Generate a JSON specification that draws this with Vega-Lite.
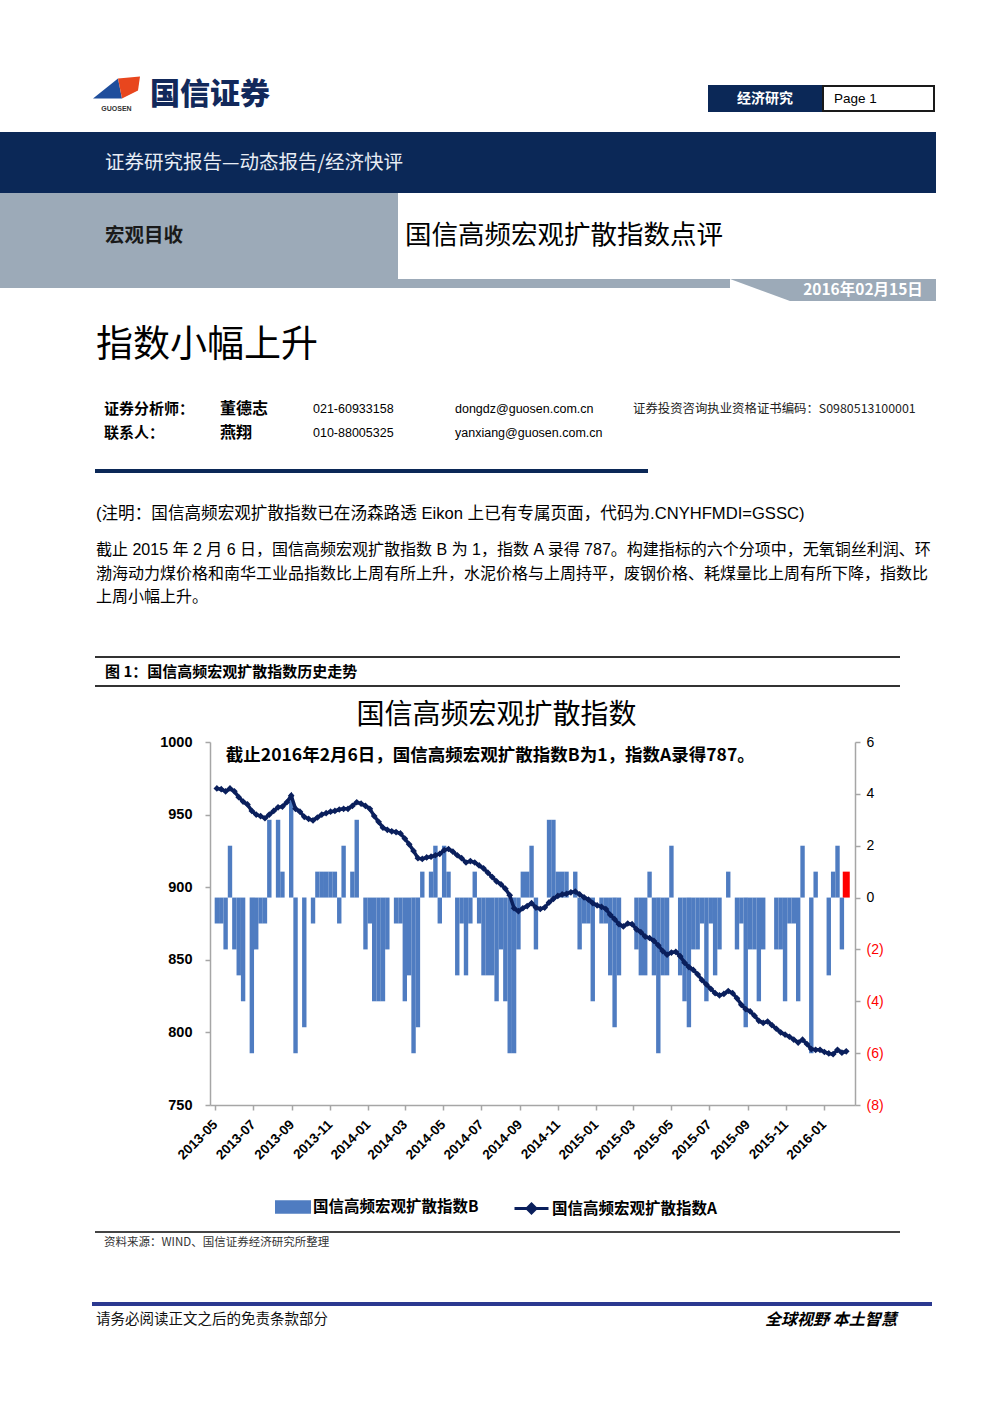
{
  "$schema": "https://vega.github.io/schema/vega-lite/v6.json",
  "background": "white",
  "padding": 0,
  "spacing": 0,
  "config": {
    "view": {"stroke": null},
    "concat": {"spacing": 0},
    "font": "Noto Sans CJK SC",
    "text": {"font": "Noto Sans CJK SC", "color": "#000000"},
    "axis": {"grid": false, "domainColor": "#a6a6a6", "tickColor": "#a6a6a6", "domainWidth": 1.5, "tickWidth": 1.5}
  },
  "vconcat": [
    {
      "spacing": 0,
      "hconcat": [
        {"width": 93, "height": 131, "data": {"values": []}, "mark": "text"},
        {
          "spacing": 0,
          "vconcat": [
            {"width": 47, "height": 65.5, "data": {"values": []}, "mark": "text"},
            {"width": 47, "height": 47, "data": {"values": [{"t": "GUOSEN"}]}, "layer": [
              {"mark": {"type": "point", "shape": "M-1,0.383L0.064,-0.468L0.234,0.383Z", "size": 2209, "filled": true, "color": "#1f4e9c", "opacity": 1, "clip": true}, "encoding": {}},
              {"mark": {"type": "point", "shape": "M0.064,-0.468L1,-0.553L0.915,0.043L0.234,0.383Z", "size": 2209, "filled": true, "color": "#e8461e", "opacity": 1, "clip": true}, "encoding": {}},
              {"mark": {"type": "text", "font": "Liberation Sans", "fontSize": 7, "fontWeight": "bold", "color": "#333333", "dy": 19}, "encoding": {"text": {"field": "t"}}}
            ]},
            {"width": 47, "height": 18.5, "data": {"values": []}, "mark": "text"}
          ]
        },
        {"width": 10, "height": 131, "data": {"values": []}, "mark": "text"},
        {
          "spacing": 0,
          "vconcat": [
            {"width": 558, "height": 78, "data": {"values": []}, "mark": "text"},
            {"width": 558, "height": 34, "data": {"values": [{"t": "国信证券"}]}, "mark": {"type": "text", "align": "left", "baseline": "middle", "fontSize": 30, "fontWeight": 900, "color": "#12295b"}, "encoding": {"text": {"field": "t"}, "x": {"datum": "a", "type": "nominal", "axis": null, "scale": {"type": "point", "align": 0}}}},
            {"width": 558, "height": 19, "data": {"values": []}, "mark": "text"}
          ]
        },
        {
          "spacing": 0,
          "vconcat": [
            {"width": 225, "height": 85, "data": {"values": []}, "mark": "text"},
            {
              "spacing": 0,
              "hconcat": [
                {"width": 112, "height": 25, "view": {"fill": "#0b2857", "stroke": "#0b2857", "strokeWidth": 2}, "data": {"values": [{"t": "经济研究"}]}, "mark": {"type": "text", "fontSize": 14, "fontWeight": "bold", "color": "#ffffff"}, "encoding": {"text": {"field": "t"}}},
                {"width": 111, "height": 25, "view": {"fill": "#ffffff", "stroke": "#1a1a1a", "strokeWidth": 2}, "data": {"values": [{"t": "Page 1"}]}, "mark": {"type": "text", "align": "left", "baseline": "middle", "dx": 11, "font": "Liberation Sans", "fontSize": 13.5, "color": "#000000"}, "encoding": {"text": {"field": "t"}, "x": {"datum": "a", "type": "nominal", "axis": null, "scale": {"type": "point", "align": 0}}}}
              ]
            },
            {"width": 225, "height": 19, "data": {"values": []}, "mark": "text"}
          ]
        }
      ]
    },
    {
      "spacing": 0,
      "hconcat": [
        {"width": 105, "height": 61, "view": {"fill": "#0b2857"}, "data": {"values": []}, "mark": "text"},
        {"width": 831, "height": 61, "view": {"fill": "#0b2857"}, "data": {"values": [{"t": "证券研究报告—动态报告/经济快评"}]}, "mark": {"type": "text", "align": "left", "baseline": "middle", "fontSize": 19.5, "color": "#e8edf5"}, "encoding": {"text": {"field": "t"}, "x": {"datum": "a", "type": "nominal", "axis": null, "scale": {"type": "point", "align": 0}}}}
      ]
    },
    {
      "spacing": 0,
      "hconcat": [
        {"width": 105, "height": 86, "view": {"fill": "#9caab8"}, "data": {"values": []}, "mark": "text"},
        {"width": 293, "height": 86, "view": {"fill": "#9caab8"}, "data": {"values": [{"t": "宏观目收"}]}, "mark": {"type": "text", "align": "left", "baseline": "middle", "fontSize": 19.5, "fontWeight": "bold", "color": "#1a1a1a"}, "encoding": {"text": {"field": "t"}, "x": {"datum": "a", "type": "nominal", "axis": null, "scale": {"type": "point", "align": 0}}}},
        {"width": 7, "height": 86, "data": {"values": []}, "mark": "text"},
        {"width": 531, "height": 86, "data": {"values": [{"t": "国信高频宏观扩散指数点评"}]}, "mark": {"type": "text", "align": "left", "baseline": "middle", "fontSize": 26.5, "color": "#000000"}, "encoding": {"text": {"field": "t"}, "x": {"datum": "a", "type": "nominal", "axis": null, "scale": {"type": "point", "align": 0}}}}
      ]
    },
    {
      "spacing": 0,
      "hconcat": [
        {
          "spacing": 0,
          "vconcat": [
            {"width": 730, "height": 9, "view": {"fill": "#9caab8"}, "data": {"values": []}, "mark": "text"},
            {"width": 730, "height": 13, "data": {"values": []}, "mark": "text"}
          ]
        },
        {"width": 60, "height": 22, "data": {"values": [{}]}, "mark": {"type": "point", "shape": "M-1,-0.367L1,-0.367L1,0.367Z", "size": 3600, "filled": true, "color": "#9caab8", "opacity": 1, "strokeWidth": 0, "clip": true}, "encoding": {}},
        {"width": 146, "height": 22, "view": {"fill": "#9caab8"}, "data": {"values": [{"t": "2016年02月15日"}]}, "mark": {"type": "text", "fontSize": 15.5, "fontWeight": "bold", "color": "#ffffff"}, "encoding": {"text": {"field": "t"}}}
      ]
    },
    {
      "spacing": 0,
      "vconcat": [
        {
          "spacing": 0,
          "hconcat": [
            {"width": 96, "height": 90, "data": {"values": []}, "mark": "text"},
            {"width": 500, "height": 90, "data": {"values": [{"t": "指数小幅上升"}]}, "mark": {"type": "text", "align": "left", "baseline": "middle", "fontSize": 37, "color": "#000000"}, "encoding": {"text": {"field": "t"}, "x": {"datum": "a", "type": "nominal", "axis": null, "scale": {"type": "point", "align": 0}}}}
          ]
        },
        {"width": 993, "height": 6, "data": {"values": []}, "mark": "text"},
        {
          "spacing": 0,
          "hconcat": [
            {"width": 104, "height": 24, "data": {"values": []}, "mark": "text"},
            {"width": 116, "height": 24, "data": {"values": [{"t": "证券分析师："}]}, "mark": {"type": "text", "align": "left", "baseline": "middle", "fontSize": 15, "fontWeight": "bold"}, "encoding": {"text": {"field": "t"}, "x": {"datum": "a", "type": "nominal", "axis": null, "scale": {"type": "point", "align": 0}}}},
            {"width": 93, "height": 24, "data": {"values": [{"t": "董德志"}]}, "mark": {"type": "text", "align": "left", "baseline": "middle", "fontSize": 16, "fontWeight": "bold"}, "encoding": {"text": {"field": "t"}, "x": {"datum": "a", "type": "nominal", "axis": null, "scale": {"type": "point", "align": 0}}}},
            {"width": 142, "height": 24, "data": {"values": [{"t": "021-60933158"}]}, "mark": {"type": "text", "align": "left", "baseline": "middle", "font": "Liberation Sans", "fontSize": 12.5}, "encoding": {"text": {"field": "t"}, "x": {"datum": "a", "type": "nominal", "axis": null, "scale": {"type": "point", "align": 0}}}},
            {"width": 178, "height": 24, "data": {"values": [{"t": "dongdz@guosen.com.cn"}]}, "mark": {"type": "text", "align": "left", "baseline": "middle", "font": "Liberation Sans", "fontSize": 12.5}, "encoding": {"text": {"field": "t"}, "x": {"datum": "a", "type": "nominal", "axis": null, "scale": {"type": "point", "align": 0}}}},
            {"width": 320, "height": 24, "data": {"values": [{"t": "证券投资咨询执业资格证书编码：S0980513100001"}]}, "mark": {"type": "text", "align": "left", "baseline": "middle", "fontSize": 12.4, "color": "#222222"}, "encoding": {"text": {"field": "t"}, "x": {"datum": "a", "type": "nominal", "axis": null, "scale": {"type": "point", "align": 0}}}}
          ]
        },
        {
          "spacing": 0,
          "hconcat": [
            {"width": 104, "height": 24, "data": {"values": []}, "mark": "text"},
            {"width": 116, "height": 24, "data": {"values": [{"t": "联系人："}]}, "mark": {"type": "text", "align": "left", "baseline": "middle", "fontSize": 15, "fontWeight": "bold"}, "encoding": {"text": {"field": "t"}, "x": {"datum": "a", "type": "nominal", "axis": null, "scale": {"type": "point", "align": 0}}}},
            {"width": 93, "height": 24, "data": {"values": [{"t": "燕翔"}]}, "mark": {"type": "text", "align": "left", "baseline": "middle", "fontSize": 16, "fontWeight": "bold"}, "encoding": {"text": {"field": "t"}, "x": {"datum": "a", "type": "nominal", "axis": null, "scale": {"type": "point", "align": 0}}}},
            {"width": 142, "height": 24, "data": {"values": [{"t": "010-88005325"}]}, "mark": {"type": "text", "align": "left", "baseline": "middle", "font": "Liberation Sans", "fontSize": 12.5}, "encoding": {"text": {"field": "t"}, "x": {"datum": "a", "type": "nominal", "axis": null, "scale": {"type": "point", "align": 0}}}},
            {"width": 178, "height": 24, "data": {"values": [{"t": "yanxiang@guosen.com.cn"}]}, "mark": {"type": "text", "align": "left", "baseline": "middle", "font": "Liberation Sans", "fontSize": 12.5}, "encoding": {"text": {"field": "t"}, "x": {"datum": "a", "type": "nominal", "axis": null, "scale": {"type": "point", "align": 0}}}}
          ]
        },
        {"width": 993, "height": 24, "data": {"values": []}, "mark": "text"},
        {
          "spacing": 0,
          "hconcat": [
            {"width": 95, "height": 4, "data": {"values": []}, "mark": "text"},
            {"width": 553, "height": 4, "view": {"fill": "#0b2857"}, "data": {"values": []}, "mark": "text"}
          ]
        },
        {"width": 993, "height": 29, "data": {"values": []}, "mark": "text"},
        {
          "spacing": 0,
          "hconcat": [
            {"width": 96, "height": 24, "data": {"values": []}, "mark": "text"},
            {"width": 860, "height": 24, "data": {"values": [{"t": "(注明：国信高频宏观扩散指数已在汤森路透 Eikon 上已有专属页面，代码为.CNYHFMDI=GSSC)"}]}, "mark": {"type": "text", "align": "left", "baseline": "middle", "font": "Liberation Sans, Noto Sans CJK SC", "fontSize": 16.6}, "encoding": {"text": {"field": "t"}, "x": {"datum": "a", "type": "nominal", "axis": null, "scale": {"type": "point", "align": 0}}}}
          ]
        },
        {"width": 993, "height": 12, "data": {"values": []}, "mark": "text"},
        {
          "spacing": 0,
          "hconcat": [
            {"width": 96, "height": 71, "data": {"values": []}, "mark": "text"},
            {"width": 880, "height": 71, "data": {"values": [
              {"k": 1, "t": "截止 2015 年 2 月 6 日，国信高频宏观扩散指数 B 为 1，指数 A 录得 787。构建指标的六个分项中，无氧铜丝利润、环"},
              {"k": 2, "t": "渤海动力煤价格和南华工业品指数比上周有所上升，水泥价格与上周持平，废钢价格、耗煤量比上周有所下降，指数比"},
              {"k": 3, "t": "上周小幅上升。"}
            ]}, "mark": {"type": "text", "align": "left", "baseline": "middle", "font": "Liberation Sans, Noto Sans CJK SC", "fontSize": 16}, "encoding": {"text": {"field": "t"}, "x": {"datum": "a", "type": "nominal", "axis": null, "scale": {"type": "point", "align": 0}}, "y": {"field": "k", "type": "ordinal", "axis": null, "scale": {"type": "point", "padding": 0.5}}}}
          ]
        },
        {"width": 993, "height": 47, "data": {"values": []}, "mark": "text"},
        {
          "spacing": 0,
          "hconcat": [
            {"width": 95, "height": 2, "data": {"values": []}, "mark": "text"},
            {"width": 805, "height": 2, "view": {"fill": "#333333"}, "data": {"values": []}, "mark": "text"}
          ]
        },
        {
          "spacing": 0,
          "hconcat": [
            {"width": 105, "height": 27, "data": {"values": []}, "mark": "text"},
            {"width": 500, "height": 27, "data": {"values": [{"t": "图 1：国信高频宏观扩散指数历史走势"}]}, "mark": {"type": "text", "align": "left", "baseline": "middle", "fontSize": 15, "fontWeight": "bold"}, "encoding": {"text": {"field": "t"}, "x": {"datum": "a", "type": "nominal", "axis": null, "scale": {"type": "point", "align": 0}}}}
          ]
        },
        {
          "spacing": 0,
          "hconcat": [
            {"width": 95, "height": 2, "data": {"values": []}, "mark": "text"},
            {"width": 805, "height": 2, "view": {"fill": "#333333"}, "data": {"values": []}, "mark": "text"}
          ]
        },
        {"width": 993, "height": 10.25, "data": {"values": []}, "mark": "text"},
        {"width": 993, "height": 35.5, "data": {"values": [{"t": "国信高频宏观扩散指数"}]}, "mark": {"type": "text", "fontSize": 28, "color": "#000000"}, "encoding": {"text": {"field": "t"}}}
      ]
    },
    {
      "spacing": 0, "bounds": "flush",
      "hconcat": [
        {"width": 210, "height": 489, "data": {"values": []}, "mark": "text"},
        {
          "width": 645,
          "height": 363,
          "data": {"values": [
            {"d": "2013-05-04", "A": 968, "B": -1}, {"d": "2013-05-11", "A": 967.5, "B": -1}, {"d": "2013-05-18", "A": 966, "B": -2}, {"d": "2013-05-25", "A": 968, "B": 2},
            {"d": "2013-06-01", "A": 966, "B": -2}, {"d": "2013-06-08", "A": 962, "B": -3}, {"d": "2013-06-15", "A": 959, "B": -4}, {"d": "2013-06-22", "A": 957, "B": 0}, {"d": "2013-06-29", "A": 952.5, "B": -6},
            {"d": "2013-07-06", "A": 950, "B": -2}, {"d": "2013-07-13", "A": 949, "B": -1}, {"d": "2013-07-20", "A": 947.5, "B": -1}, {"d": "2013-07-27", "A": 950, "B": 3},
            {"d": "2013-08-03", "A": 952.5, "B": 0}, {"d": "2013-08-10", "A": 955, "B": 3}, {"d": "2013-08-17", "A": 955.5, "B": 1}, {"d": "2013-08-24", "A": 958.5, "B": 0}, {"d": "2013-08-31", "A": 963, "B": 4},
            {"d": "2013-09-07", "A": 954, "B": -6}, {"d": "2013-09-14", "A": 952, "B": 0}, {"d": "2013-09-21", "A": 948.5, "B": -5}, {"d": "2013-09-28", "A": 947, "B": 0},
            {"d": "2013-10-05", "A": 946, "B": -1}, {"d": "2013-10-12", "A": 948, "B": 1}, {"d": "2013-10-19", "A": 950, "B": 1}, {"d": "2013-10-26", "A": 951, "B": 1},
            {"d": "2013-11-02", "A": 952, "B": 1}, {"d": "2013-11-09", "A": 952.5, "B": 1}, {"d": "2013-11-16", "A": 953.5, "B": -1}, {"d": "2013-11-23", "A": 954, "B": 2}, {"d": "2013-11-30", "A": 954, "B": 0},
            {"d": "2013-12-07", "A": 956, "B": 1}, {"d": "2013-12-14", "A": 958.5, "B": 3}, {"d": "2013-12-21", "A": 957.5, "B": 0}, {"d": "2013-12-28", "A": 956, "B": -2},
            {"d": "2014-01-04", "A": 954, "B": -1}, {"d": "2014-01-11", "A": 949, "B": -4}, {"d": "2014-01-18", "A": 945, "B": -4}, {"d": "2014-01-25", "A": 941, "B": -4},
            {"d": "2014-02-01", "A": 939.5, "B": -2}, {"d": "2014-02-08", "A": 938.5, "B": 0}, {"d": "2014-02-15", "A": 938, "B": -1}, {"d": "2014-02-22", "A": 937, "B": -1},
            {"d": "2014-03-01", "A": 933.5, "B": -4}, {"d": "2014-03-08", "A": 929.5, "B": -3}, {"d": "2014-03-15", "A": 925, "B": -6}, {"d": "2014-03-22", "A": 920, "B": -5}, {"d": "2014-03-29", "A": 919.5, "B": 1},
            {"d": "2014-04-05", "A": 920.5, "B": 0}, {"d": "2014-04-12", "A": 921, "B": 1}, {"d": "2014-04-19", "A": 922, "B": 2}, {"d": "2014-04-26", "A": 923, "B": -1},
            {"d": "2014-05-03", "A": 925.5, "B": 2}, {"d": "2014-05-10", "A": 926.3, "B": 1}, {"d": "2014-05-17", "A": 924.5, "B": 0}, {"d": "2014-05-24", "A": 922, "B": -3}, {"d": "2014-05-31", "A": 920, "B": -1},
            {"d": "2014-06-07", "A": 917, "B": -3}, {"d": "2014-06-14", "A": 918, "B": -1}, {"d": "2014-06-21", "A": 917, "B": 1}, {"d": "2014-06-28", "A": 915, "B": -1},
            {"d": "2014-07-05", "A": 913, "B": -3}, {"d": "2014-07-12", "A": 910, "B": -3}, {"d": "2014-07-19", "A": 907, "B": -3}, {"d": "2014-07-26", "A": 904, "B": -4},
            {"d": "2014-08-02", "A": 902, "B": -2}, {"d": "2014-08-09", "A": 899, "B": -4}, {"d": "2014-08-16", "A": 894.5, "B": -6}, {"d": "2014-08-23", "A": 885.5, "B": -6}, {"d": "2014-08-30", "A": 883.5, "B": -2},
            {"d": "2014-09-06", "A": 885.5, "B": 1}, {"d": "2014-09-13", "A": 887, "B": 1}, {"d": "2014-09-20", "A": 889, "B": 2}, {"d": "2014-09-27", "A": 886, "B": -2},
            {"d": "2014-10-04", "A": 885, "B": 0}, {"d": "2014-10-11", "A": 886, "B": 0}, {"d": "2014-10-18", "A": 889.5, "B": 3}, {"d": "2014-10-25", "A": 892, "B": 3},
            {"d": "2014-11-01", "A": 894, "B": 1}, {"d": "2014-11-08", "A": 895, "B": 1}, {"d": "2014-11-15", "A": 895.5, "B": 1}, {"d": "2014-11-22", "A": 896.5, "B": 0}, {"d": "2014-11-29", "A": 897, "B": 1},
            {"d": "2014-12-06", "A": 895, "B": -2}, {"d": "2014-12-13", "A": 893, "B": -1}, {"d": "2014-12-20", "A": 891.5, "B": -1}, {"d": "2014-12-27", "A": 889, "B": -4},
            {"d": "2015-01-03", "A": 887.5, "B": 0}, {"d": "2015-01-10", "A": 886.5, "B": -1}, {"d": "2015-01-17", "A": 885, "B": -1}, {"d": "2015-01-24", "A": 881, "B": -3}, {"d": "2015-01-31", "A": 878, "B": -5},
            {"d": "2015-02-07", "A": 874.5, "B": -3}, {"d": "2015-02-14", "A": 873, "B": 0}, {"d": "2015-02-21", "A": 875, "B": 0}, {"d": "2015-02-28", "A": 874.5, "B": 0},
            {"d": "2015-03-07", "A": 871, "B": -2}, {"d": "2015-03-14", "A": 869, "B": -3}, {"d": "2015-03-21", "A": 866, "B": -3}, {"d": "2015-03-28", "A": 865, "B": 1},
            {"d": "2015-04-04", "A": 863, "B": -3}, {"d": "2015-04-11", "A": 860, "B": -6}, {"d": "2015-04-18", "A": 856, "B": -3}, {"d": "2015-04-25", "A": 853.5, "B": -3},
            {"d": "2015-05-02", "A": 855, "B": 2}, {"d": "2015-05-09", "A": 855.5, "B": 0}, {"d": "2015-05-16", "A": 852.5, "B": -3}, {"d": "2015-05-23", "A": 848, "B": -4}, {"d": "2015-05-30", "A": 845, "B": -5},
            {"d": "2015-06-06", "A": 843, "B": -2}, {"d": "2015-06-13", "A": 840, "B": -2}, {"d": "2015-06-20", "A": 836, "B": -1}, {"d": "2015-06-27", "A": 833, "B": -4},
            {"d": "2015-07-04", "A": 830, "B": -1}, {"d": "2015-07-11", "A": 827, "B": -3}, {"d": "2015-07-18", "A": 825.5, "B": -2}, {"d": "2015-07-25", "A": 826.5, "B": 0},
            {"d": "2015-08-01", "A": 828.5, "B": 1}, {"d": "2015-08-08", "A": 827, "B": 0}, {"d": "2015-08-15", "A": 823.5, "B": -2}, {"d": "2015-08-22", "A": 819, "B": -1}, {"d": "2015-08-29", "A": 816, "B": -5},
            {"d": "2015-09-05", "A": 814.5, "B": -2}, {"d": "2015-09-12", "A": 811.5, "B": -2}, {"d": "2015-09-19", "A": 808, "B": -4}, {"d": "2015-09-26", "A": 806.5, "B": -2},
            {"d": "2015-10-03", "A": 807.5, "B": 0}, {"d": "2015-10-10", "A": 805, "B": 0}, {"d": "2015-10-17", "A": 802.5, "B": -2}, {"d": "2015-10-24", "A": 800, "B": -2}, {"d": "2015-10-31", "A": 798.5, "B": -4},
            {"d": "2015-11-07", "A": 797, "B": -1}, {"d": "2015-11-14", "A": 795, "B": -1}, {"d": "2015-11-21", "A": 793, "B": -4}, {"d": "2015-11-28", "A": 795, "B": 2},
            {"d": "2015-12-05", "A": 792, "B": 0}, {"d": "2015-12-12", "A": 788.5, "B": -6}, {"d": "2015-12-19", "A": 788, "B": 1}, {"d": "2015-12-26", "A": 788, "B": 0},
            {"d": "2016-01-02", "A": 786.5, "B": 0}, {"d": "2016-01-09", "A": 785.5, "B": -3}, {"d": "2016-01-16", "A": 785, "B": 1}, {"d": "2016-01-23", "A": 788, "B": 2}, {"d": "2016-01-30", "A": 786, "B": -2},
            {"d": "2016-02-06", "A": 787, "B": 1}
          ]},
          "encoding": {
            "x": {
              "field": "d", "type": "temporal",
              "scale": {"type": "utc", "domain": [{"year": 2013, "month": 5, "date": 1, "utc": true}, {"year": 2016, "month": 2, "date": 12, "utc": true}]},
              "axis": {
                "orient": "bottom", "title": null, "format": "%Y-%m",
                "values": [
                  {"year": 2013, "month": 5, "date": 1, "utc": true}, {"year": 2013, "month": 7, "date": 1, "utc": true}, {"year": 2013, "month": 9, "date": 1, "utc": true}, {"year": 2013, "month": 11, "date": 1, "utc": true},
                  {"year": 2014, "month": 1, "date": 1, "utc": true}, {"year": 2014, "month": 3, "date": 1, "utc": true}, {"year": 2014, "month": 5, "date": 1, "utc": true}, {"year": 2014, "month": 7, "date": 1, "utc": true},
                  {"year": 2014, "month": 9, "date": 1, "utc": true}, {"year": 2014, "month": 11, "date": 1, "utc": true}, {"year": 2015, "month": 1, "date": 1, "utc": true}, {"year": 2015, "month": 3, "date": 1, "utc": true},
                  {"year": 2015, "month": 5, "date": 1, "utc": true}, {"year": 2015, "month": 7, "date": 1, "utc": true}, {"year": 2015, "month": 9, "date": 1, "utc": true}, {"year": 2015, "month": 11, "date": 1, "utc": true},
                  {"year": 2016, "month": 1, "date": 1, "utc": true}
                ],
                "labelAngle": -45, "labelAlign": "right", "labelBaseline": "middle",
                "labelFont": "Liberation Sans", "labelFontSize": 13.5, "labelFontWeight": "bold", "labelColor": "#000000",
                "labelPadding": 12, "tickSize": 5, "labelFlush": false, "labelOverlap": false
              }
            }
          },
          "layer": [
            {
              "encoding": {
                "y": {
                  "field": "B", "type": "quantitative", "scale": {"domain": [-8, 6]},
                  "axis": {
                    "orient": "right", "title": null, "values": [-8, -6, -4, -2, 0, 2, 4, 6],
                    "labelExpr": "datum.value < 0 ? '(' + abs(datum.value) + ')' : datum.label",
                    "labelColor": {"condition": {"test": "datum.value < 0", "value": "#ff0000"}, "value": "#000000"},
                    "labelFont": "Liberation Sans", "labelFontSize": 14, "labelPadding": 6, "tickSize": 5
                  }
                }
              },
              "layer": [
                {
                  "mark": {"type": "bar"},
                  "encoding": {
                    "color": {
                      "datum": "国信高频宏观扩散指数B", "type": "nominal",
                      "scale": {"range": ["#4f7cc1"]},
                      "condition": {"test": "utcyear(datum.d) === 2016 && utcmonth(datum.d) === 1", "value": "#ff0000"},
                      "legend": {
                        "orient": "none", "legendX": 65, "legendY": 447, "title": null,
                        "symbolType": "M-1,-0.38H1V0.38H-1Z", "symbolSize": 1296, "symbolStrokeWidth": 0, "symbolOpacity": 1,
                        "labelFont": "Noto Sans CJK SC", "labelFontSize": 15.5, "labelFontWeight": "bold", "labelColor": "#000000", "labelOffset": 2, "labelLimit": 400
                      }
                    },
                    "size": {"condition": {"test": "utcyear(datum.d) === 2016 && utcmonth(datum.d) === 1", "value": 7}, "value": 4.4}
                  }
                },
                {
                  "transform": [{"filter": "utcyear(datum.d) === 2013 && utcmonth(datum.d) === 4 && utcdate(datum.d) === 4"}],
                  "mark": {"type": "text", "align": "left", "baseline": "middle", "dx": 9, "fontSize": 17.5, "fontWeight": "bold", "color": "#000000"},
                  "encoding": {
                    "y": {"datum": 5.46, "type": "quantitative"},
                    "text": {"value": "截止2016年2月6日，国信高频宏观扩散指数B为1，指数A录得787。"}
                  }
                }
              ]
            },
            {
              "encoding": {
                "y": {
                  "field": "A", "type": "quantitative", "scale": {"domain": [750, 1000]},
                  "axis": {
                    "orient": "left", "title": null, "values": [750, 800, 850, 900, 950, 1000], "format": "d",
                    "labelFont": "Liberation Sans", "labelFontSize": 14.5, "labelFontWeight": "bold", "labelColor": "#000000",
                    "labelPadding": 13, "tickSize": 5
                  }
                }
              },
              "layer": [
                {
                  "mark": {"type": "line", "strokeWidth": 3.5},
                  "encoding": {
                    "color": {
                      "datum": "国信高频宏观扩散指数A", "type": "nominal",
                      "scale": {"range": ["#0a1f5c"]},
                      "legend": {
                        "orient": "none", "legendX": 303, "legendY": 448, "title": null,
                        "symbolType": "M-1,0H1M0,-0.26L0.26,0L0,0.26L-0.26,0Z", "symbolSize": 1156, "symbolStrokeWidth": 3,
                        "symbolFillColor": "#0a1f5c", "symbolStrokeColor": "#0a1f5c",
                        "labelFont": "Noto Sans CJK SC", "labelFontSize": 15.5, "labelFontWeight": "bold", "labelColor": "#000000", "labelOffset": 2, "labelLimit": 400
                      }
                    }
                  }
                },
                {
                  "mark": {"type": "point", "shape": "diamond", "filled": true, "size": 45, "color": "#0a1f5c", "opacity": 1},
                  "encoding": {}
                }
              ]
            }
          ],
          "resolve": {"scale": {"y": "independent", "color": "independent"}}
        }
      ]
    },
    {
      "spacing": 0,
      "vconcat": [
        {
          "spacing": 0,
          "hconcat": [
            {"width": 95, "height": 2, "data": {"values": []}, "mark": "text"},
            {"width": 805, "height": 2, "view": {"fill": "#444444"}, "data": {"values": []}, "mark": "text"}
          ]
        },
        {
          "spacing": 0,
          "hconcat": [
            {"width": 104, "height": 20, "data": {"values": []}, "mark": "text"},
            {"width": 500, "height": 20, "data": {"values": [{"t": "资料来源：WIND、国信证券经济研究所整理"}]}, "mark": {"type": "text", "align": "left", "baseline": "middle", "fontSize": 11.5, "color": "#333333"}, "encoding": {"text": {"field": "t"}, "x": {"datum": "a", "type": "nominal", "axis": null, "scale": {"type": "point", "align": 0}}}}
          ]
        },
        {"width": 993, "height": 49, "data": {"values": []}, "mark": "text"},
        {
          "spacing": 0,
          "hconcat": [
            {"width": 92, "height": 4, "data": {"values": []}, "mark": "text"},
            {"width": 840, "height": 4, "view": {"fill": "#2b3990"}, "data": {"values": []}, "mark": "text"}
          ]
        },
        {"width": 993, "height": 4, "data": {"values": []}, "mark": "text"},
        {
          "spacing": 0,
          "hconcat": [
            {"width": 96, "height": 20, "data": {"values": []}, "mark": "text"},
            {"width": 669, "height": 20, "data": {"values": [{"t": "请务必阅读正文之后的免责条款部分"}]}, "mark": {"type": "text", "align": "left", "baseline": "middle", "fontSize": 14.5, "color": "#111111"}, "encoding": {"text": {"field": "t"}, "x": {"datum": "a", "type": "nominal", "axis": null, "scale": {"type": "point", "align": 0}}}},
            {"width": 200, "height": 20, "data": {"values": [{"t": "全球视野  本土智慧"}]}, "mark": {"type": "text", "align": "left", "baseline": "middle", "fontSize": 16, "fontWeight": "bold", "fontStyle": "italic", "color": "#000000"}, "encoding": {"text": {"field": "t"}, "x": {"datum": "a", "type": "nominal", "axis": null, "scale": {"type": "point", "align": 0}}}}
          ]
        },
        {"width": 993, "height": 74, "data": {"values": []}, "mark": "text"}
      ]
    }
  ]
}
